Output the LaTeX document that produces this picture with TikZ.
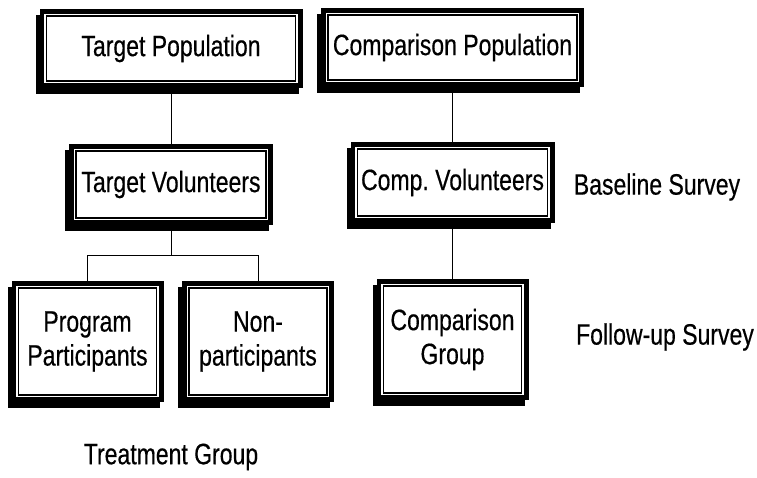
\documentclass[tikz,border=0pt]{standalone}
\usepackage{fontspec}
\setmainfont[FakeStretch=0.78,FakeBold=0.4]{Liberation Sans}
\usetikzlibrary{backgrounds}

\begin{document}
\begin{tikzpicture}
[x=1pt,y=-1pt,line width=2.2pt,%
  every node/.style={font=\fontsize{29.5}{34}\selectfont,align=center,inner sep=2pt},%
  frame/.style={draw,line width=1.8pt,fill=white,
    preaction={draw,line width=14pt,transform canvas={shift={(-4pt,-6pt)}}},
    preaction={draw,line width=14pt},
    preaction={draw=white,line width=4.5pt}},%
  wide/.style={frame,minimum width=249pt,minimum height=65pt},%
  mid/.style={frame,minimum width=190pt,minimum height=67pt},%
  low/.style={frame,minimum width=138pt,minimum height=107pt}]
\useasboundingbox (0,0) rectangle (757,478);
\node[wide] (tpop) at (171,48.5) {Target Population};
\node[wide] (cpop) at (452.5,47.5) {Comparison Population};
\node[mid] (tvol) at (171,184.5) {Target Volunteers};
\node[mid] (cvol) at (452.5,182.5) {Comp.\ Volunteers};
\node[low] (ppart) at (87.5,341.5) {Program\\Participants};
\node[low] (npart) at (258,341.5) {Non-\\participants};
\node[low] (cgrp) at (452.5,339.5) {Comparison\\Group};
\node (base) at (657,187) {Baseline Survey};
\node (follow) at (665,337) {Follow-up Survey};
\node (treat) at (171,457) {Treatment Group};
\coordinate (fork) at (171,255);
\begin{scope}[on background layer]
\draw (tpop) -- (tvol);
\draw (cpop) -- (cvol);
\draw (cvol) -- (cgrp);
\draw (tvol) -- (fork) -| (ppart);
\draw (fork) -| (npart);
\end{scope}
\end{tikzpicture}
\end{document}
